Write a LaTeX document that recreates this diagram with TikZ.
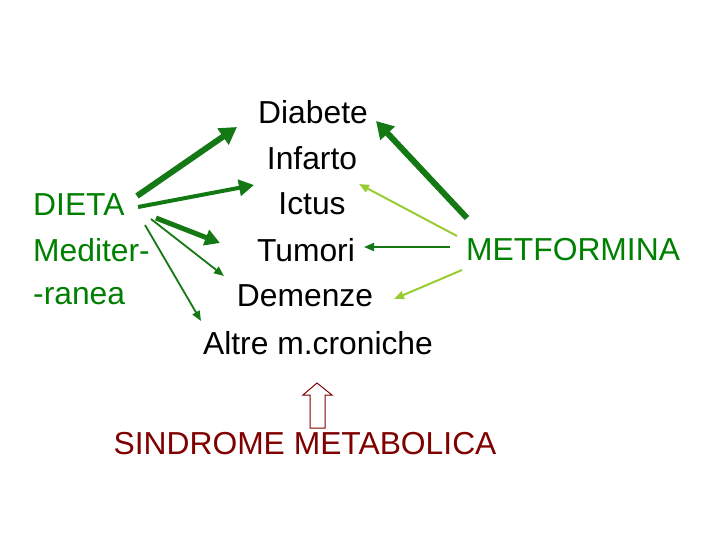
\documentclass[tikz,border=0pt]{standalone}
\usepackage{fontspec}
\setmainfont{Liberation Sans}
\usetikzlibrary{arrows.meta}
\definecolor{dg}{RGB}{20,120,20}
\definecolor{tg}{RGB}{0,128,0}
\definecolor{lg}{RGB}{153,204,51}
\definecolor{dr}{RGB}{128,0,0}
\begin{document}
\begin{tikzpicture}[x=1pt,y=-1pt,
  lbl/.style={inner sep=0pt,font=\fontsize{31.8}{36}\selectfont},
  thick1/.style={draw=dg,line width=6pt,-{Triangle[length=17pt,width=19pt]}},
  mid1/.style={draw=dg,line width=4pt,-{Triangle[length=15pt,width=16pt]}},
  thin1/.style={draw=dg,line width=1.8pt,-{Triangle[length=10pt,width=8pt]}},
  light1/.style={draw=lg,line width=2pt,-{Triangle[length=10pt,width=8pt]}}]
\useasboundingbox (0,0) rectangle (720,540);
\node[lbl] (diab) at (313,112) {Diabete};
\node[lbl] (inf) at (312,158) {Infarto};
\node[lbl] (ict) at (312,204) {Ictus};
\node[lbl] (tum) at (306,250) {Tumori};
\node[lbl] (dem) at (305,296) {Demenze};
\node[lbl] (alt) at (318,343) {Altre m.croniche};
\node[lbl,text=tg,anchor=west] (dieta) at (33,205) {DIETA};
\node[lbl,text=tg,anchor=west] (med) at (33,250) {Mediter-};
\node[lbl,text=tg,anchor=west] (ran) at (33,296) {-ranea};
\node[lbl,text=tg,anchor=west] (met) at (466,250) {METFORMINA};
\node[lbl,text=dr] (sind) at (305,444) {SINDROME METABOLICA};
% start / end points
\coordinate (d1) at (137,196); \coordinate (e1) at (237,127);
\coordinate (d2) at (138,207); \coordinate (e2) at (254,185);
\coordinate (d3) at (156,218); \coordinate (e3) at (220,243);
\coordinate (d4) at (151,219); \coordinate (e4) at (224,276);
\coordinate (d5) at (145,225); \coordinate (e5) at (201,321);
\coordinate (m1) at (467,218); \coordinate (f1) at (376,121);
\coordinate (m2) at (457,236); \coordinate (f2) at (359,184);
\coordinate (m3) at (450,247); \coordinate (f3) at (364,247);
\coordinate (m4) at (462,270); \coordinate (f4) at (394,299);
\draw[thick1] (d1) -- (e1);
\draw[mid1] (d2) -- (e2);
\draw[mid1,line width=5pt] (d3) -- (e3);
\draw[thin1] (d4) -- (e4);
\draw[thin1] (d5) -- (e5);
\draw[thick1] (m1) -- (f1);
\draw[light1] (m2) -- (f2);
\draw[thin1] (m3) -- (f3);
\draw[light1] (m4) -- (f4);
% hollow up arrow
\draw[dr,line width=1pt,fill=white] (310,428) -- (310,395) -- (303,395) -- (317,383) -- (332,395) -- (325,395) -- (325,428) -- cycle;
\end{tikzpicture}
\end{document}
